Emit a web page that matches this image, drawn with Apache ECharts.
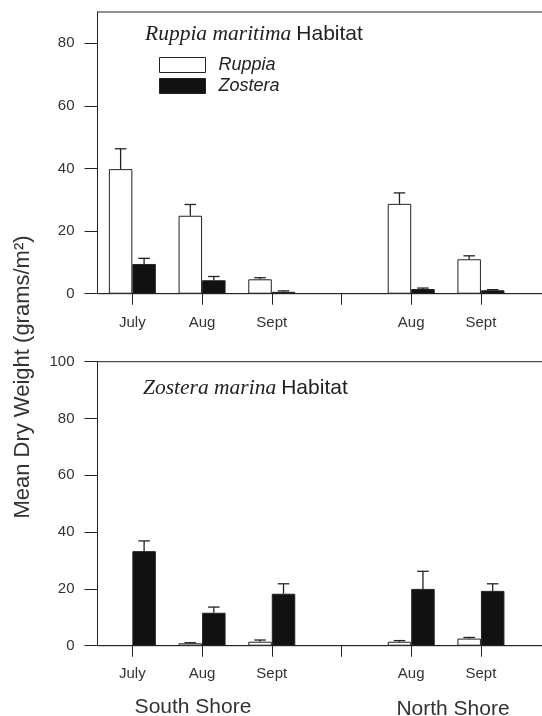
<!DOCTYPE html>
<html>
<head>
<meta charset="utf-8">
<script src="https://cdn.jsdelivr.net/npm/echarts@6/dist/echarts.min.js"></script>
<style>html,body{margin:0;padding:0;background:#fff}#c{width:542px;height:716px}</style>
</head>
<body>
<div id="c"></div>
<script>
// ---- data ----
const categories = ['July', 'Aug', 'Sept', '', 'Aug', 'Sept', ''];
const seriesNames = ['Ruppia', 'Zostera'];

// Ruppia maritima habitat (top panel)
const ruppiaHabRuppiaMean = [39.8, 24.9, 4.6, null, 28.7, 11.0, null];
const ruppiaHabRuppiaSE   = [6.5, 3.6, 0.5, null, 3.5, 1.1, null];
const ruppiaHabZosteraMean = [9.5, 4.3, 0.6, null, 1.5, 1.1, null];
const ruppiaHabZosteraSE   = [1.8, 1.2, 0.3, null, 0.3, 0.2, null];

// Zostera marina habitat (bottom panel)
const zosteraHabRuppiaMean = [null, 0.85, 1.4, null, 1.4, 2.5, null];
const zosteraHabRuppiaSE   = [null, 0.2, 0.6, null, 0.4, 0.4, null];
const zosteraHabZosteraMean = [33.3, 11.6, 18.3, null, 20.0, 19.3, null];
const zosteraHabZosteraSE   = [3.6, 2.0, 3.5, null, 6.2, 2.5, null];

const topYTicks = [0, 20, 40, 60, 80];
const bottomYTicks = [0, 20, 40, 60, 80, 100];

// ---- styling ----
const SANS = "'Liberation Sans', Arial, sans-serif";
const SERIF = "'Liberation Serif', 'Times New Roman', serif";
const INK = '#222';
const TXT = '#333';
const BAR_FRAC = 0.337;   // bar width as fraction of category band
const CAP_FRAC = 0.165;   // error cap width as fraction of band

function errData(means, ses) {
  const out = [];
  means.forEach((m, i) => { if (m != null && ses[i] != null) out.push([i, m, ses[i]]); });
  return out;
}
function errSeries(gridIdx, means, ses, sign) {
  return {
    type: 'custom', xAxisIndex: gridIdx, yAxisIndex: gridIdx, z: 3,
    data: errData(means, ses), encode: { x: 0, y: 1 }, silent: true,
    renderItem(params, api) {
      const i = api.value(0), m = api.value(1), se = api.value(2);
      const base = api.coord([i, m]);
      const top = api.coord([i, m + se]);
      const band = api.size([1, 0])[0];
      const x = base[0] + sign * band * BAR_FRAC / 2;
      const h = band * CAP_FRAC / 2;
      const st = { stroke: INK, lineWidth: 1.3 };
      return { type: 'group', children: [
        { type: 'line', shape: { x1: x, y1: base[1], x2: x, y2: top[1] }, style: st },
        { type: 'line', shape: { x1: x - h, y1: top[1], x2: x + h, y2: top[1] }, style: st }
      ]};
    }
  };
}
function barSeries(gridIdx, name, data) {
  const white = name === 'Ruppia';
  return {
    type: 'bar', name, xAxisIndex: gridIdx, yAxisIndex: gridIdx, data,
    barWidth: (BAR_FRAC * 100) + '%', barGap: '0%', z: 2,
    itemStyle: { color: white ? '#fff' : '#111', borderColor: INK, borderWidth: 1 },
    emphasis: { disabled: true }
  };
}
function xAxis(gridIdx) {
  return {
    type: 'category', gridIndex: gridIdx, data: categories, boundaryGap: true,
    axisLine: { show: true, lineStyle: { color: INK, width: 1 } },
    axisTick: { show: true, alignWithLabel: true, length: 11, lineStyle: { color: INK }, interval: (i) => i < 6 },
    axisLabel: { interval: 0, margin: gridIdx === 0 ? 22 : 21, fontFamily: SANS, fontSize: 15, color: TXT },
    splitLine: { show: false }
  };
}
function yAxis(gridIdx, max, ticks) {
  return {
    type: 'value', gridIndex: gridIdx, min: 0, max,
    axisLine: { show: true, lineStyle: { color: INK, width: 1 } },
    axisTick: { show: true, length: 13, lineStyle: { color: INK }, customValues: ticks },
    axisLabel: { margin: 23, fontFamily: SANS, fontSize: 15, color: TXT, customValues: ticks },
    splitLine: { show: false }
  };
}
function titleRich() {
  return { rich: {
    i: { fontFamily: SERIF, fontStyle: 'italic', fontWeight: 'normal', fontSize: 21.5, color: INK, lineHeight: 24 },
    n: { fontFamily: SANS, fontWeight: 'normal', fontSize: 21, color: INK, lineHeight: 24 } } };
}

const chart = echarts.init(document.getElementById('c'), null, { renderer: 'canvas' });
chart.setOption({
  animation: false,
  backgroundColor: '#fff',
  grid: [
    { left: 97.5, width: 488, top: 12, height: 281.7, outerBoundsMode: 'none', containLabel: false,
      show: true, borderColor: INK, borderWidth: 1, backgroundColor: 'transparent' },
    { left: 97.5, width: 488, top: 361.7, height: 284, outerBoundsMode: 'none', containLabel: false,
      show: true, borderColor: INK, borderWidth: 1, backgroundColor: 'transparent' }
  ],
  xAxis: [xAxis(0), xAxis(1)],
  yAxis: [yAxis(0, 90, topYTicks), yAxis(1, 100, bottomYTicks)],
  title: [
    { left: 145, top: 22, padding: 0, text: '{i|Ruppia maritima} {n|Habitat}', textStyle: titleRich() },
    { left: 143, top: 376, padding: 0, text: '{i|Zostera marina} {n|Habitat}', textStyle: titleRich() }
  ],
  legend: {
    data: seriesNames, orient: 'vertical', left: 159, top: 56, padding: 0,
    itemWidth: 46, itemHeight: 15, itemGap: 3, icon: 'rect', selectedMode: false,
    itemStyle: { borderWidth: 1, borderColor: INK },
    textStyle: { fontFamily: SANS, fontStyle: 'italic', fontSize: 18, color: INK, padding: [0, 0, 0, 8] }
  },
  graphic: [
    { type: 'text', x: 23, y: 377, rotation: Math.PI / 2,
      style: { text: 'Mean Dry Weight (grams/m\u00B2)', font: '22px ' + SANS, fill: TXT, textAlign: 'center', textVerticalAlign: 'middle' } },
    { type: 'text', x: 193, y: 707,
      style: { text: 'South Shore', font: '21px ' + SANS, fill: TXT, textAlign: 'center', textVerticalAlign: 'middle' } },
    { type: 'text', x: 453, y: 709,
      style: { text: 'North Shore', font: '21px ' + SANS, fill: TXT, textAlign: 'center', textVerticalAlign: 'middle' } }
  ],
  series: [
    barSeries(0, 'Ruppia', ruppiaHabRuppiaMean),
    barSeries(0, 'Zostera', ruppiaHabZosteraMean),
    errSeries(0, ruppiaHabRuppiaMean, ruppiaHabRuppiaSE, -1),
    errSeries(0, ruppiaHabZosteraMean, ruppiaHabZosteraSE, 1),
    barSeries(1, 'Ruppia', zosteraHabRuppiaMean),
    barSeries(1, 'Zostera', zosteraHabZosteraMean),
    errSeries(1, zosteraHabRuppiaMean, zosteraHabRuppiaSE, -1),
    errSeries(1, zosteraHabZosteraMean, zosteraHabZosteraSE, 1)
  ]
});
</script>
</body>
</html>
